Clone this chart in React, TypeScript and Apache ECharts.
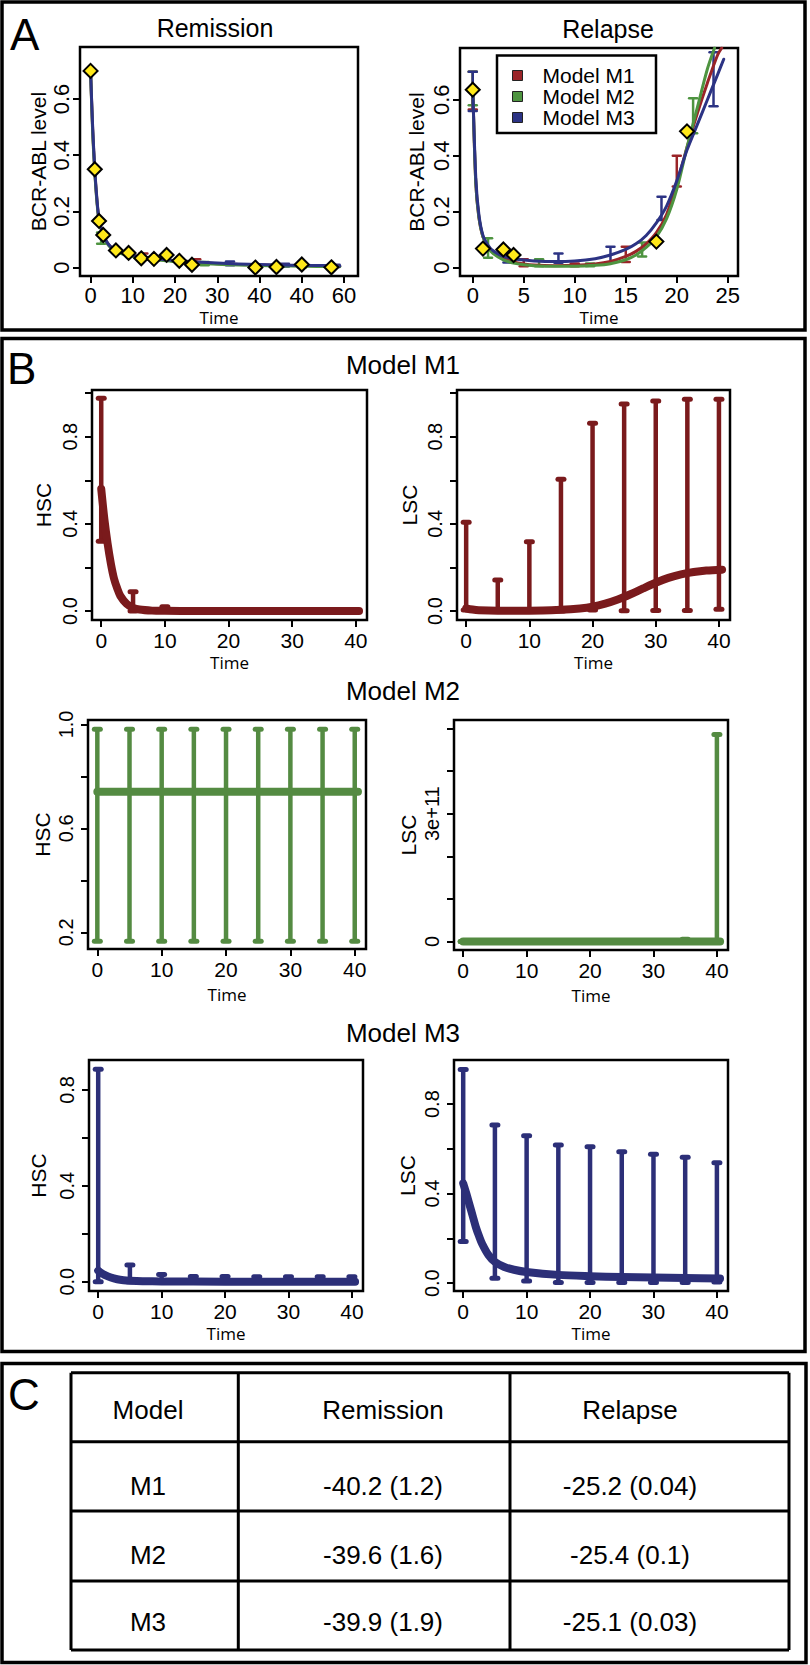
import React, { useEffect, useRef } from "react";
import * as echarts from "echarts";

// ================= DATA =================
// ---- Panel A: Remission ----
const remissionObsTime = [0, 1, 2, 3, 6, 9, 12, 15, 18, 21, 24, 39, 44, 50, 57];
const remissionObsLevel = [0.70, 0.35, 0.166, 0.116, 0.061, 0.052, 0.033, 0.031, 0.045, 0.024, 0.010, 0.000, 0.002, 0.011, 0.001];
const remissionFitTime = [0, 0.5, 1, 1.5, 2, 3, 4, 5, 6, 8, 10, 13, 16, 20, 25, 30, 35, 40, 45, 50, 55, 59];
const remissionFitM1 = [0.70, 0.49, 0.345, 0.24, 0.172, 0.116, 0.087, 0.07, 0.06, 0.049, 0.042, 0.035, 0.03, 0.024, 0.018, 0.014, 0.011, 0.009, 0.008, 0.007, 0.006, 0.005];
const remissionFitM2 = [0.70, 0.48, 0.34, 0.235, 0.168, 0.112, 0.084, 0.067, 0.057, 0.046, 0.039, 0.032, 0.027, 0.021, 0.016, 0.012, 0.009, 0.007, 0.006, 0.005, 0.004, 0.004];
const remissionFitM3 = [0.70, 0.50, 0.35, 0.245, 0.175, 0.118, 0.088, 0.071, 0.061, 0.05, 0.043, 0.036, 0.031, 0.025, 0.02, 0.016, 0.013, 0.011, 0.009, 0.008, 0.007, 0.006];
const remissionErrM1 = [[12.5, 0.028, 0.05], [25, 0.012, 0.03], [39, 0.002, 0.012]];
const remissionErrM2 = [[2.5, 0.085, 0.125], [27, 0.008, 0.02], [50, 0.0, 0.008]];
const remissionErrM3 = [[33, 0.008, 0.022], [46, 0.004, 0.014], [58, 0.002, 0.01]];
const remissionXTicks = [0, 10, 20, 30, 40, 50, 60];
const remissionXTickLabels = ["0", "10", "20", "30", "40", "40", "60"];
const levelYTicks = [0, 0.2, 0.4, 0.6];
const levelYTickLabels = ["0", "0.2", "0.4", "0.6"];

// ---- Panel A: Relapse ----
const relapseObsTime = [0, 1, 3, 4, 18, 21];
const relapseObsLevel = [0.636, 0.068, 0.065, 0.045, 0.093, 0.487];
const relapseFitTimeM1 = [0, 0.3, 0.6, 1, 1.5, 2, 3, 4, 5, 6, 8, 10, 12, 13.5, 15, 16, 17, 18, 19, 20, 21, 22, 23, 24, 24.4];
const relapseFitM1 = [0.65, 0.30, 0.18, 0.11, 0.075, 0.055, 0.032, 0.02, 0.013, 0.009, 0.007, 0.008, 0.013, 0.022, 0.04, 0.058, 0.085, 0.125, 0.19, 0.30, 0.43, 0.55, 0.66, 0.76, 0.785];
const relapseFitTimeM2 = [0, 0.3, 0.6, 1, 1.5, 2, 3, 4, 5, 6, 8, 10, 12, 13.5, 15, 16, 17, 18, 19, 20, 21, 22, 23, 23.7];
const relapseFitM2 = [0.65, 0.30, 0.18, 0.11, 0.072, 0.05, 0.028, 0.016, 0.01, 0.007, 0.005, 0.005, 0.008, 0.014, 0.028, 0.045, 0.072, 0.11, 0.175, 0.28, 0.43, 0.57, 0.71, 0.785];
const relapseFitTimeM3 = [0, 0.3, 0.6, 1, 1.5, 2, 3, 4, 5, 6, 8, 10, 12, 13.5, 15, 16, 17, 18, 19, 20, 21, 22, 23, 24, 24.6];
const relapseFitM3 = [0.65, 0.32, 0.19, 0.115, 0.08, 0.06, 0.04, 0.032, 0.027, 0.024, 0.022, 0.024, 0.032, 0.045, 0.065, 0.085, 0.115, 0.16, 0.22, 0.31, 0.42, 0.51, 0.60, 0.69, 0.745];
const relapseErrM1 = [[0, 0.565, 0.70], [5, 0.005, 0.03], [10, 0.005, 0.015], [15, 0.02, 0.075], [20, 0.29, 0.40]];
const relapseErrM2 = [[0, 0.58, 0.70], [1.5, 0.035, 0.105], [6.5, 0.005, 0.03], [11.5, 0.005, 0.015], [16.6, 0.04, 0.09], [21.6, 0.48, 0.605]];
const relapseErrM3 = [[0, 0.56, 0.70], [3.4, 0.018, 0.05], [8.4, 0.017, 0.05], [13.5, 0.018, 0.075], [18.5, 0.17, 0.253], [23.6, 0.577, 0.77]];
const relapseXTicks = [0, 5, 10, 15, 20, 25];
const relapseXTickLabels = ["0", "5", "10", "15", "20", "25"];
const modelNames = ["Model M1", "Model M2", "Model M3"];

// ---- Panel B ----
const simXTicks = [0, 10, 20, 30, 40];
const simXTickLabels = ["0", "10", "20", "30", "40"];

const hscM1Time = [0, 0.5, 1, 1.5, 2, 2.5, 3, 4, 5, 6, 8, 10, 15, 20, 25, 30, 35, 40.5];
const hscM1 = [0.56, 0.42, 0.31, 0.22, 0.15, 0.105, 0.07, 0.033, 0.015, 0.007, 0.002, 0.001, 0, 0, 0, 0, 0, 0];
const hscM1Err = [[0, 0.32, 0.976], [5, 0, 0.089], [10, 0, 0.02], [15, 0, 0.004], [20, 0, 0.003], [25, 0, 0.003], [30, 0, 0.003], [35, 0, 0.003], [40, 0, 0.003]];
const lscM1Time = [0, 1, 2, 5, 10, 15, 18, 20, 22, 24, 26, 28, 30, 32, 34, 36, 38, 40.5];
const lscM1 = [0.012, 0.007, 0.004, 0.002, 0.002, 0.006, 0.012, 0.02, 0.034, 0.053, 0.077, 0.104, 0.13, 0.152, 0.168, 0.179, 0.186, 0.19];
const lscM1Err = [[0, 0.005, 0.407], [5, 0, 0.142], [10, 0, 0.318], [15, 0, 0.605], [20, 0.005, 0.861], [25, 0.002, 0.95], [30, 0.003, 0.963], [35, 0.003, 0.972], [40, 0.008, 0.972]];
const m1YTicks = [0, 0.2, 0.4, 0.6, 0.8, 1.0];
const m1YLabelValues = [0, 0.4, 0.8];
const m1YLabelTexts = ["0.0", "0.4", "0.8"];

const hscM2Time = [0, 5, 10, 15, 20, 25, 30, 35, 40.5];
const hscM2 = [0.741, 0.741, 0.741, 0.741, 0.741, 0.741, 0.741, 0.741, 0.741];
const hscM2Err = [[0, 0.166, 0.981], [5, 0.166, 0.981], [10, 0.166, 0.981], [15, 0.166, 0.981], [20, 0.166, 0.981], [25, 0.166, 0.981], [30, 0.166, 0.981], [35, 0.166, 0.981], [40, 0.166, 0.981]];
const hscM2YTicks = [0.2, 0.4, 0.6, 0.8, 1.0];
const hscM2YLabelValues = [0.2, 0.6, 1.0];
const hscM2YLabelTexts = ["0.2", "0.6", "1.0"];
const lscM2Time = [0, 10, 20, 30, 35, 40.5];
const lscM2 = [0, 0, 0, 0, 0, 0];
const lscM2Err = [[0, 0, 0], [5, 0, 0], [10, 0, 0], [15, 0, 0], [20, 0, 0], [25, 0, 0], [30, 0, 0], [35, 0, 0.05e11], [40, 0, 4.86e11]];
const lscM2YTicks = [0, 1e11, 2e11, 3e11, 4e11, 5e11];
const lscM2YLabelValues = [0, 3e11];
const lscM2YLabelTexts = ["0", "3e+11"];

const hscM3Time = [0, 0.5, 1, 2, 3, 4, 5, 7, 10, 20, 30, 40.5];
const hscM3 = [0.046, 0.036, 0.028, 0.017, 0.01, 0.006, 0.004, 0.002, 0.001, 0, 0, 0];
const hscM3Err = [[0, 0, 0.886], [5, 0, 0.069], [10, 0, 0.03], [15, 0, 0.022], [20, 0, 0.022], [25, 0, 0.02], [30, 0, 0.02], [35, 0, 0.02], [40, 0, 0.02]];
const lscM3Time = [0, 0.5, 1, 1.5, 2, 2.5, 3, 4, 5, 6.5, 8, 10, 15, 20, 25, 30, 35, 40.5];
const lscM3 = [0.446, 0.40, 0.35, 0.30, 0.25, 0.21, 0.175, 0.125, 0.095, 0.072, 0.06, 0.05, 0.037, 0.031, 0.027, 0.025, 0.023, 0.021];
const lscM3Err = [[0, 0.186, 0.955], [5, 0.022, 0.707], [10, 0.01, 0.659], [15, 0.003, 0.617], [20, 0.003, 0.61], [25, 0.003, 0.587], [30, 0.003, 0.576], [35, 0.003, 0.562], [40, 0.005, 0.538]];
const m3YTicks = [0, 0.2, 0.4, 0.6, 0.8];
const m3YLabelValues = [0, 0.4, 0.8];
const m3YLabelTexts = ["0.0", "0.4", "0.8"];

// ---- Panel C (table) ----
const tableHeader = ["Model", "Remission", "Relapse"];
const tableModels = ["M1", "M2", "M3"];
const tableRemission = ["-40.2 (1.2)", "-39.6 (1.6)", "-39.9 (1.9)"];
const tableRelapse = ["-25.2 (0.04)", "-25.4 (0.1)", "-25.1 (0.03)"];

// ================= STYLE / LAYOUT =================
const FONT = "Liberation Sans, Arial, Helvetica, sans-serif";
const TIME_FONT = "Open Sans, Liberation Sans, sans-serif";
const A_COLORS = ["#9a2428", "#4e9440", "#2c3384"];
const B_RED = "#7a1a1c";
const B_GREEN = "#548b42";
const B_BLUE = "#2c2f78";

const zip = (t: number[], v: number[]) => t.map((x, i) => [x, v[i]]);

function lookup(values: number[], texts: string[]) {
  return (value: number) => {
    for (let i = 0; i < values.length; i++) {
      if (Math.abs(values[i] - value) <= Math.abs(values[i]) * 1e-6 + 1e-9) return texts[i];
    }
    return "";
  };
}

function xAxisDef(gridIndex: number, min: number, max: number, ticks: number[], labels: string[], fontSize: number, margin: number, nameGap: number) {
  return {
    type: "value", gridIndex, min, max,
    name: "Time", nameLocation: "middle", nameGap, nameMoveOverlap: false,
    nameTextStyle: { fontFamily: TIME_FONT, fontSize: 17, color: "#000" },
    axisLine: { show: false, onZero: false },
    axisTick: { show: true, inside: false, length: 7, lineStyle: { color: "#000", width: 2 }, customValues: ticks },
    axisLabel: { show: true, margin, fontFamily: FONT, fontSize, color: "#000", customValues: ticks, formatter: lookup(ticks, labels), hideOverlap: false },
    splitLine: { show: false },
  };
}

function yAxisDef(gridIndex: number, min: number, max: number, ticks: number[], labelValues: number[], labelTexts: string[], name: string, fontSize: number, margin: number, nameGap: number) {
  return {
    type: "value", gridIndex, min, max,
    name, nameLocation: "middle", nameRotate: 90, nameGap, nameMoveOverlap: false,
    nameTextStyle: { fontFamily: FONT, fontSize: 21, color: "#000" },
    axisLine: { show: false, onZero: false },
    axisTick: { show: true, inside: false, length: 7, lineStyle: { color: "#000", width: 2 }, customValues: ticks },
    axisLabel: { show: true, rotate: 90, margin, fontFamily: FONT, fontSize, color: "#000", customValues: labelValues, formatter: lookup(labelValues, labelTexts), hideOverlap: false },
    splitLine: { show: false },
  };
}

function lineSeries(name: string, idx: number, t: number[], v: number[], color: string, width: number) {
  return {
    type: "line", name, xAxisIndex: idx, yAxisIndex: idx,
    data: zip(t, v), symbol: "none", showSymbol: false, smooth: 0.3,
    color, itemStyle: { color },
    lineStyle: { color, width, cap: "round", join: "round" },
    z: 3, silent: true,
  };
}

function errorSeries(idx: number, data: number[][], color: string, barW: number, capHalf: number, capW: number) {
  return {
    type: "custom", xAxisIndex: idx, yAxisIndex: idx, data, silent: true, z: 2,
    encode: { x: 0, y: [1, 2] },
    renderItem: (_p: any, api: any) => {
      const t = api.value(0), lo = api.value(1), hi = api.value(2);
      const a = api.coord([t, lo]);
      const b = api.coord([t, hi]);
      return {
        type: "group",
        children: [
          { type: "line", shape: { x1: a[0], y1: a[1], x2: b[0], y2: b[1] }, style: { stroke: color, lineWidth: barW } },
          { type: "line", shape: { x1: b[0] - capHalf, y1: b[1], x2: b[0] + capHalf, y2: b[1] }, style: { stroke: color, lineWidth: capW, lineCap: "round" } },
          { type: "line", shape: { x1: a[0] - capHalf, y1: a[1], x2: a[0] + capHalf, y2: a[1] }, style: { stroke: color, lineWidth: capW, lineCap: "round" } },
        ],
      };
    },
  };
}

function scatterSeries(idx: number, t: number[], v: number[]) {
  return {
    type: "scatter", xAxisIndex: idx, yAxisIndex: idx, data: zip(t, v),
    symbol: "diamond", symbolSize: 14, silent: true, z: 6,
    itemStyle: { color: "#ffe81a", borderColor: "#000", borderWidth: 2, opacity: 1 },
  };
}

function txt(text: string, x: number, y: number, fontSize: number, align = "center", family = FONT) {
  return {
    type: "text", x, y, z: 10, silent: true,
    style: { text, fontSize, fontFamily: family, fill: "#000", textAlign: align, align, textVerticalAlign: "middle", verticalAlign: "middle" },
  };
}

function hline(x1: number, x2: number, y: number, w: number) {
  return { type: "line", z: 10, silent: true, shape: { x1, y1: y, x2, y2: y }, style: { stroke: "#000", lineWidth: w } };
}
function vline(x: number, y1: number, y2: number, w: number) {
  return { type: "line", z: 10, silent: true, shape: { x1: x, y1, x2: x, y2 }, style: { stroke: "#000", lineWidth: w } };
}

function buildOption() {
  const grids = [
    { left: 80, top: 47, width: 278, height: 229 },
    { left: 460, top: 48, width: 278, height: 228 },
    { left: 92, top: 390, width: 275, height: 230 },
    { left: 457, top: 390, width: 273, height: 230 },
    { left: 88, top: 720, width: 278, height: 229 },
    { left: 454, top: 720, width: 274, height: 230 },
    { left: 89, top: 1060, width: 274, height: 231 },
    { left: 454, top: 1060, width: 274, height: 231 },
  ].map((g) => ({ ...g, show: true, borderColor: "#000", borderWidth: 2.5, backgroundColor: "transparent", containLabel: false, outerBoundsMode: "none" }));

  const bxMin = -1.45, bxMax = 41.75;
  const xAxis = [
    xAxisDef(0, -2.5, 63.3, remissionXTicks, remissionXTickLabels, 22, 8, 33),
    xAxisDef(1, -1.25, 26.0, relapseXTicks, relapseXTickLabels, 22, 8, 33),
    xAxisDef(2, bxMin, bxMax, simXTicks, simXTickLabels, 21, 10, 34),
    xAxisDef(3, bxMin, bxMax, simXTicks, simXTickLabels, 21, 10, 34),
    xAxisDef(4, bxMin, bxMax, simXTicks, simXTickLabels, 21, 10, 37),
    xAxisDef(5, bxMin, bxMax, simXTicks, simXTickLabels, 21, 10, 37),
    xAxisDef(6, bxMin, bxMax, simXTicks, simXTickLabels, 21, 10, 34),
    xAxisDef(7, bxMin, bxMax, simXTicks, simXTickLabels, 21, 10, 34),
  ];
  const yAxis = [
    yAxisDef(0, -0.03, 0.785, levelYTicks, levelYTicks, levelYTickLabels, "BCR-ABL level", 22, 8, 31),
    yAxisDef(1, -0.03, 0.785, levelYTicks, levelYTicks, levelYTickLabels, "BCR-ABL level", 22, 8, 33),
    yAxisDef(2, -0.041, 1.014, m1YTicks, m1YLabelValues, m1YLabelTexts, "HSC", 20, 12, 38),
    yAxisDef(3, -0.041, 1.014, m1YTicks, m1YLabelValues, m1YLabelTexts, "LSC", 20, 12, 37),
    yAxisDef(4, 0.136, 1.017, hscM2YTicks, hscM2YLabelValues, hscM2YLabelTexts, "HSC", 20, 12, 35),
    yAxisDef(5, -0.2e11, 5.2e11, lscM2YTicks, lscM2YLabelValues, lscM2YLabelTexts, "LSC", 20, 12, 35),
    yAxisDef(6, -0.039, 0.925, m3YTicks, m3YLabelValues, m3YLabelTexts, "HSC", 20, 12, 40),
    yAxisDef(7, -0.035, 0.997, m3YTicks, m3YLabelValues, m3YLabelTexts, "LSC", 20, 12, 36),
  ];

  const series: any[] = [
    // Remission
    errorSeries(0, remissionErrM1, A_COLORS[0], 2.5, 4, 2.5),
    errorSeries(0, remissionErrM2, A_COLORS[1], 2.5, 4, 2.5),
    errorSeries(0, remissionErrM3, A_COLORS[2], 2.5, 4, 2.5),
    lineSeries("Remission M1", 0, remissionFitTime, remissionFitM1, A_COLORS[0], 3),
    lineSeries("Remission M2", 0, remissionFitTime, remissionFitM2, A_COLORS[1], 3),
    lineSeries("Remission M3", 0, remissionFitTime, remissionFitM3, A_COLORS[2], 3),
    scatterSeries(0, remissionObsTime, remissionObsLevel),
    // Relapse
    errorSeries(1, relapseErrM1, A_COLORS[0], 2.5, 4, 2.5),
    errorSeries(1, relapseErrM2, A_COLORS[1], 2.5, 4, 2.5),
    errorSeries(1, relapseErrM3, A_COLORS[2], 2.5, 4, 2.5),
    lineSeries(modelNames[0], 1, relapseFitTimeM1, relapseFitM1, A_COLORS[0], 3),
    lineSeries(modelNames[1], 1, relapseFitTimeM2, relapseFitM2, A_COLORS[1], 3),
    lineSeries(modelNames[2], 1, relapseFitTimeM3, relapseFitM3, A_COLORS[2], 3),
    scatterSeries(1, relapseObsTime, relapseObsLevel),
    // Panel B
    errorSeries(2, hscM1Err, B_RED, 4.5, 3, 5),
    lineSeries("HSC M1", 2, hscM1Time, hscM1, B_RED, 8),
    errorSeries(3, lscM1Err, B_RED, 4.5, 3, 5),
    lineSeries("LSC M1", 3, lscM1Time, lscM1, B_RED, 8),
    errorSeries(4, hscM2Err, B_GREEN, 4.5, 3, 5),
    lineSeries("HSC M2", 4, hscM2Time, hscM2, B_GREEN, 8),
    errorSeries(5, lscM2Err, B_GREEN, 4.5, 3, 5),
    lineSeries("LSC M2", 5, lscM2Time, lscM2, B_GREEN, 8),
    errorSeries(6, hscM3Err, B_BLUE, 4.5, 3, 5),
    lineSeries("HSC M3", 6, hscM3Time, hscM3, B_BLUE, 8),
    errorSeries(7, lscM3Err, B_BLUE, 4.5, 3, 5),
    lineSeries("LSC M3", 7, lscM3Time, lscM3, B_BLUE, 8),
  ];

  // table layout
  const tX = [71, 238.3, 510, 789];
  const tY = [1372.7, 1441.7, 1511, 1581, 1650];
  const colTextX = [148, 383, 630];
  const rowTextY = [1410, 1486, 1555, 1621.7];
  const tableRows = [tableHeader, ...tableModels.map((m, i) => [m, tableRemission[i], tableRelapse[i]])];

  const graphic: any[] = [
    { type: "rect", z: 10, silent: true, shape: { x: 2, y: 2, width: 803, height: 328 }, style: { fill: "none", stroke: "#000", lineWidth: 3.5 } },
    { type: "rect", z: 10, silent: true, shape: { x: 2, y: 338.5, width: 803, height: 1013 }, style: { fill: "none", stroke: "#000", lineWidth: 3.5 } },
    { type: "rect", z: 10, silent: true, shape: { x: 2, y: 1363.5, width: 804, height: 299 }, style: { fill: "none", stroke: "#000", lineWidth: 3.5 } },
    // legend frame of the Relapse plot
    { type: "rect", z: 7, silent: true, shape: { x: 497, y: 55.5, width: 159, height: 77.5 }, style: { fill: "#fff", stroke: "#000", lineWidth: 2.5 } },
    txt("A", 10, 34, 44, "left"),
    txt("B", 7, 368, 44, "left"),
    txt("C", 8, 1394, 44, "left"),
    txt("Remission", 215, 28, 25),
    txt("Relapse", 608, 29, 25),
    txt("Model M1", 403, 365, 26),
    txt("Model M2", 403, 691, 26),
    txt("Model M3", 403, 1032.5, 26),
  ];
  tY.forEach((y) => graphic.push(hline(tX[0], tX[3], y, 3)));
  tX.forEach((x) => graphic.push(vline(x, tY[0], tY[4], 3)));
  tableRows.forEach((row, r) => row.forEach((cell, c) => graphic.push(txt(cell, colTextX[c], rowTextY[r], 26))));

  return {
    animation: false,
    backgroundColor: "#ffffff",
    textStyle: { fontFamily: FONT },
    grid: grids,
    xAxis,
    yAxis,
    legend: {
      show: true, orient: "vertical", left: 512, top: 65,
      data: modelNames, selectedMode: false,
      icon: "rect",
      itemWidth: 10, itemHeight: 10, itemGap: 0,
      padding: 0,
      borderWidth: 0, backgroundColor: "transparent",
      itemStyle: { borderColor: "#222", borderWidth: 1 },
      textStyle: { fontFamily: FONT, fontSize: 21, lineHeight: 20, color: "#000", padding: [0, 0, 0, 15] },
      z: 9,
    },
    series,
    graphic,
  };
}

export default function App() {
  const ref = useRef<HTMLDivElement>(null);
  useEffect(() => {
    if (!ref.current) return;
    const chart = echarts.init(ref.current, null, { renderer: "svg" });
    chart.setOption(buildOption() as any);
    return () => chart.dispose();
  }, []);
  return (
    <div
      ref={ref}
      style={{ position: "absolute", left: 0, top: 0, width: 810, height: 1665, background: "#fff" }}
    />
  );
}
